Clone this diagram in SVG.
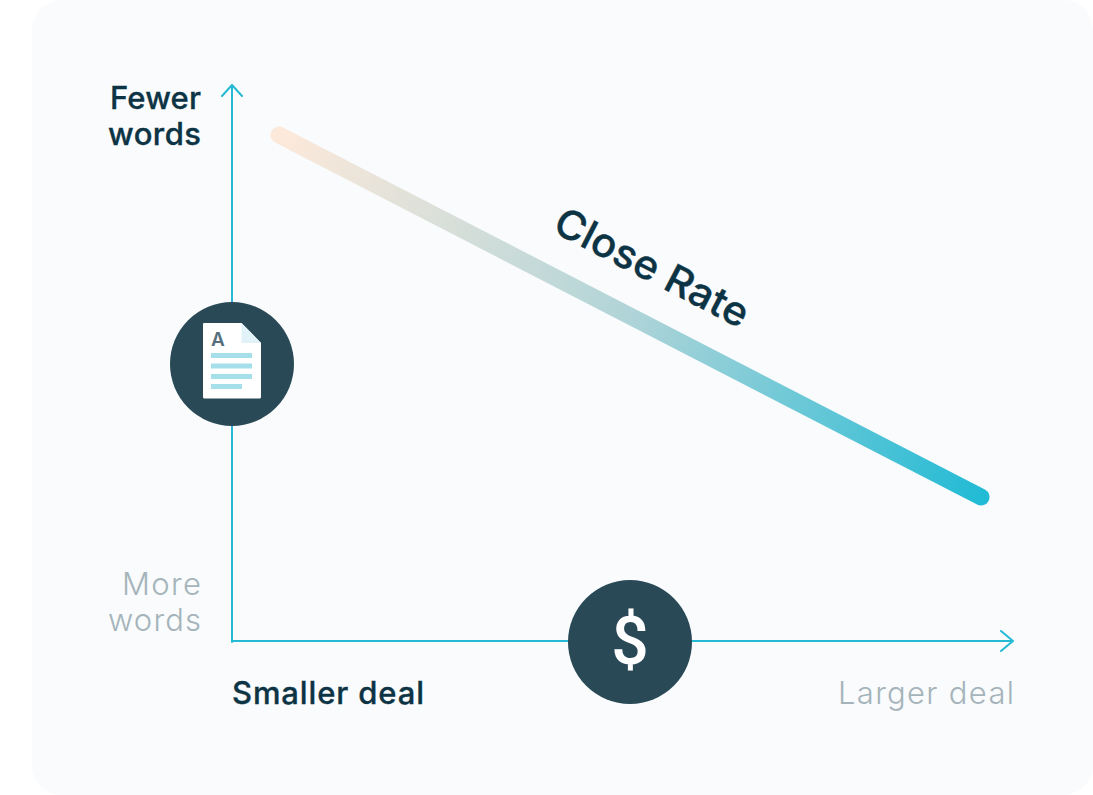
<svg xmlns="http://www.w3.org/2000/svg" width="1093" height="795" viewBox="0 0 1093 795">
<style>
text{font-family:"Inter","Liberation Sans",sans-serif;font-size:31px}
.d{fill:#0d3444;font-weight:500;stroke:#0d3444;stroke-width:.35}
.l{fill:#a5b4ba;font-weight:300}
.ax{fill:none;stroke:#25bad4;stroke-width:2;stroke-linecap:round;stroke-linejoin:round}
.bar{fill:#a4dfea}
</style>
<defs>
<linearGradient id="g" gradientUnits="userSpaceOnUse" x1="279" y1="135" x2="981" y2="497">
<stop offset="0" stop-color="#fde9da"/>
<stop offset="0.5" stop-color="#b0d4d8"/>
<stop offset="1" stop-color="#22bbd5"/>
</linearGradient>
</defs>
<rect id="panel" x="32" y="0" width="1061" height="795" rx="30" fill="#f9fbfd"/>
<g id="connectors">
<path class="ax" d="M232 642V85M222 96L232 85L242 96"/>
<path class="ax" d="M232 641H1013M1001 631L1013 641L1001 651"/>
</g>
<g id="close-rate">
<path d="M279 135L981 497" fill="none" stroke="url(#g)" stroke-width="17" stroke-linecap="round"/>
<text class="d" transform="translate(551 231) rotate(27.3)" style="font-size:40px" textLength="213" lengthAdjust="spacingAndGlyphs">Close Rate</text>
</g>
<g id="fewer-words"><text class="d" x="110" y="109" textLength="91">Fewer</text><text class="d" x="108" y="145" textLength="93">words</text></g>
<g id="more-words"><text class="l" x="122" y="595" textLength="79">More</text><text class="l" x="108" y="631" textLength="93">words</text></g>
<g id="smaller-deal"><text class="d" x="232" y="704" textLength="192">Smaller deal</text></g>
<g id="larger-deal"><text class="l" x="838" y="704" textLength="176">Larger deal</text></g>
<g id="document-node">
<circle cx="232" cy="364" r="62" fill="#2a4957"/>
<path d="M204 323H241.500L261 343V397a1.500 1.500 0 0 1-1.500 1.500H204.500a1.500 1.500 0 0 1-1.500-1.500V324a1 1 0 0 1 1-1z" fill="#fff"/>
<path d="M241.500 323L261 343H241.500z" fill="#e1f3f9"/>
<text x="211" y="346" style="font-size:19px;font-weight:600" fill="#55707c">A</text>
<rect class="bar" x="211" y="353" width="41" height="5"/>
<rect class="bar" x="211" y="363.500" width="41" height="5"/>
<rect class="bar" x="211" y="374" width="41" height="5"/>
<rect class="bar" x="211" y="384" width="31" height="5"/>
</g>
<g id="dollar-node">
<circle cx="630" cy="642" r="62" fill="#2a4957"/>
<text x="630" y="664" text-anchor="middle" style="font-family:Roboto,'Liberation Sans',sans-serif;font-size:66px;font-weight:500" fill="#fff">$</text>
</g>
</svg>
